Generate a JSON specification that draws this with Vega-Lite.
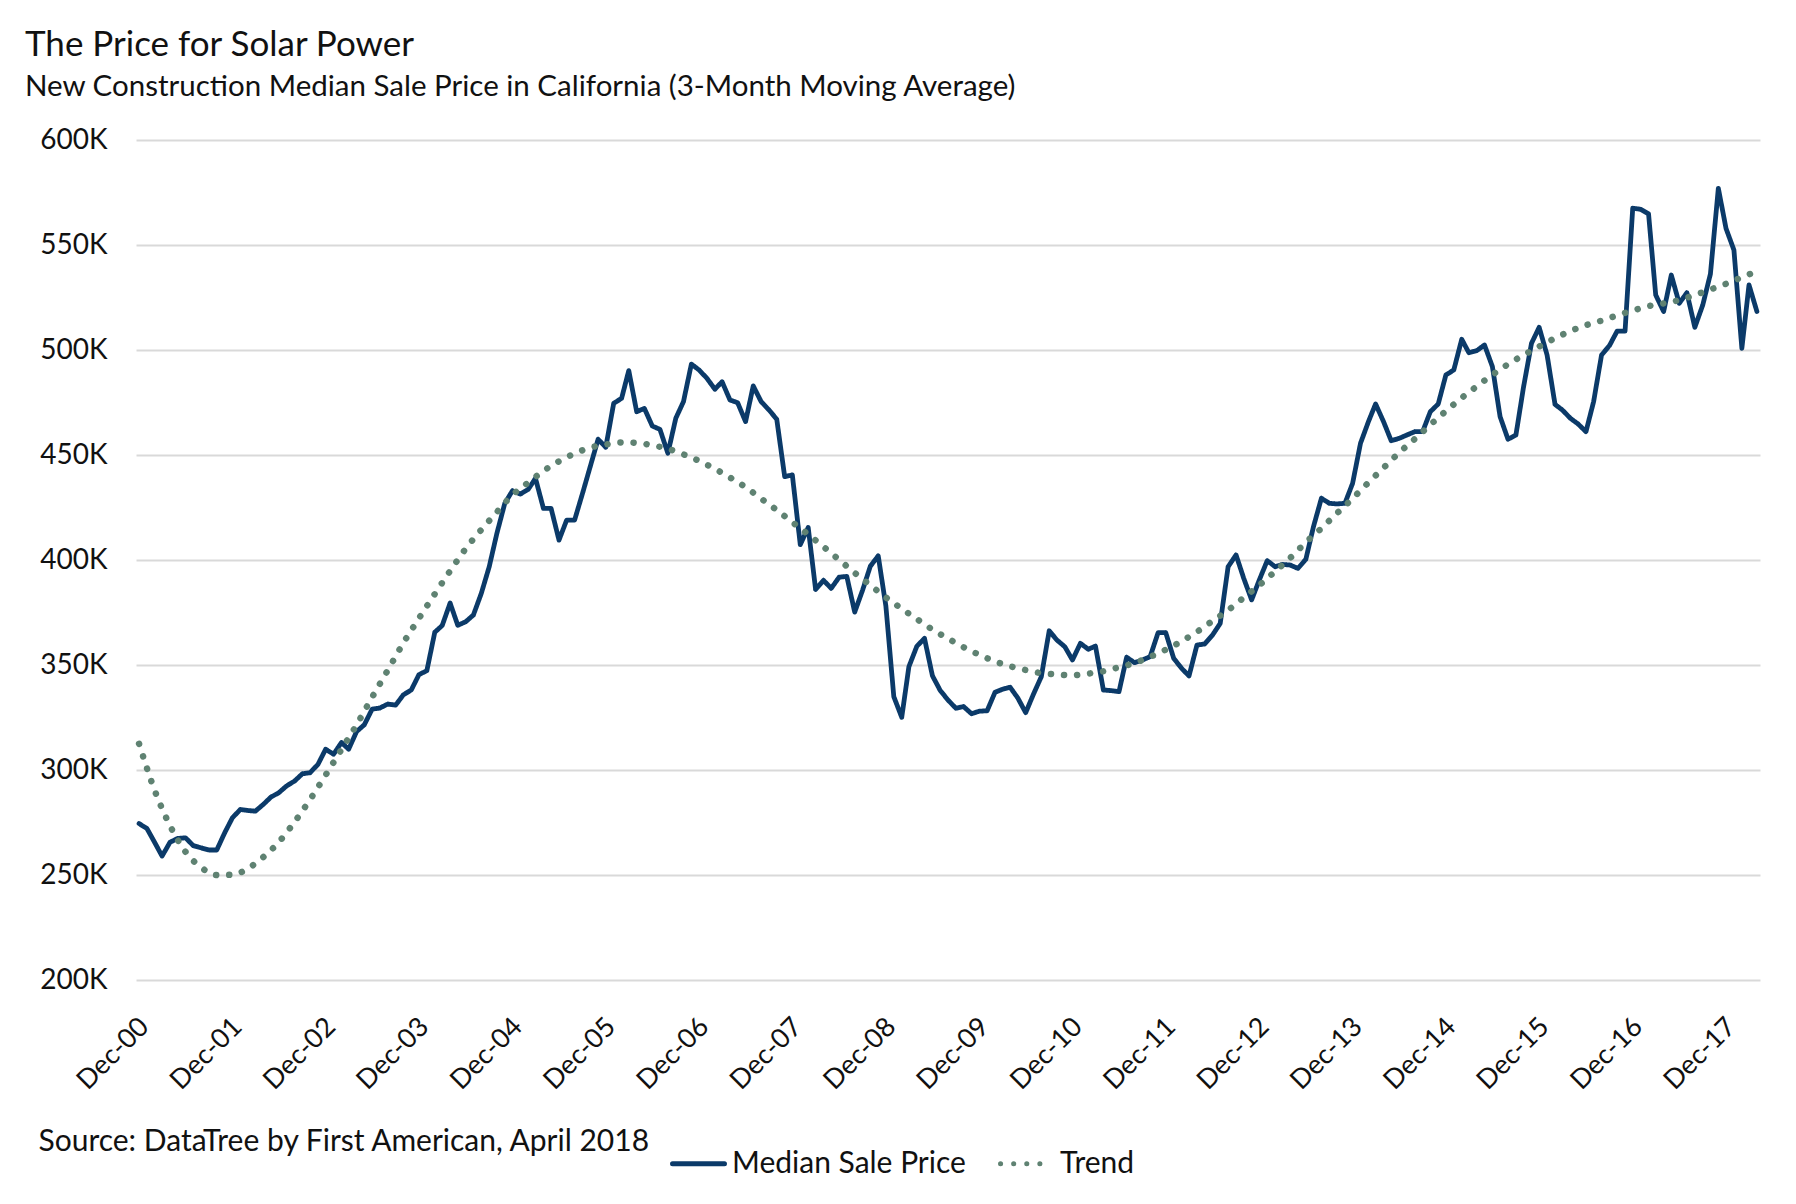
{
  "$schema": "https://vega.github.io/schema/vega-lite/v6.json",
  "autosize": {"type": "none"},
  "width": 1624,
  "height": 840,
  "padding": {"left": 136, "top": 140, "right": 36, "bottom": 224},
  "background": "white",
  "config": {"font": "Lato", "view": {"stroke": null}},
  "title": {
    "text": "The Price for Solar Power",
    "subtitle": "New Construction Median Sale Price in California (3-Month Moving Average)",
    "anchor": "start",
    "frame": "group",
    "dx": -111,
    "offset": 25,
    "fontSize": 35,
    "fontWeight": "normal",
    "color": "#111111",
    "subtitleFontSize": 29.5,
    "subtitleColor": "#111111",
    "subtitlePadding": 10
  },
  "datasets": {
    "price": [
      {"date": "2000/12/01", "value": 274.5},
      {"date": "2001/01/01", "value": 272.1},
      {"date": "2001/02/01", "value": 265.3},
      {"date": "2001/03/01", "value": 259.0},
      {"date": "2001/04/01", "value": 265.6},
      {"date": "2001/05/01", "value": 267.4},
      {"date": "2001/06/01", "value": 267.7},
      {"date": "2001/07/01", "value": 264.0},
      {"date": "2001/08/01", "value": 262.9},
      {"date": "2001/09/01", "value": 261.9},
      {"date": "2001/10/01", "value": 261.9},
      {"date": "2001/11/01", "value": 270.1},
      {"date": "2001/12/01", "value": 277.2},
      {"date": "2002/01/01", "value": 281.2},
      {"date": "2002/02/01", "value": 280.7},
      {"date": "2002/03/01", "value": 280.4},
      {"date": "2002/04/01", "value": 283.6},
      {"date": "2002/05/01", "value": 287.1},
      {"date": "2002/06/01", "value": 289.2},
      {"date": "2002/07/01", "value": 292.4},
      {"date": "2002/08/01", "value": 294.7},
      {"date": "2002/09/01", "value": 298.2},
      {"date": "2002/10/01", "value": 298.7},
      {"date": "2002/11/01", "value": 302.7},
      {"date": "2002/12/01", "value": 309.9},
      {"date": "2003/01/01", "value": 307.5},
      {"date": "2003/02/01", "value": 313.1},
      {"date": "2003/03/01", "value": 309.9},
      {"date": "2003/04/01", "value": 318.3},
      {"date": "2003/05/01", "value": 321.5},
      {"date": "2003/06/01", "value": 329.0},
      {"date": "2003/07/01", "value": 329.5},
      {"date": "2003/08/01", "value": 331.4},
      {"date": "2003/09/01", "value": 330.9},
      {"date": "2003/10/01", "value": 335.8},
      {"date": "2003/11/01", "value": 338.1},
      {"date": "2003/12/01", "value": 345.4},
      {"date": "2004/01/01", "value": 347.3},
      {"date": "2004/02/01", "value": 365.6},
      {"date": "2004/03/01", "value": 368.8},
      {"date": "2004/04/01", "value": 379.5},
      {"date": "2004/05/01", "value": 368.9},
      {"date": "2004/06/01", "value": 370.6},
      {"date": "2004/07/01", "value": 373.8},
      {"date": "2004/08/01", "value": 384.1},
      {"date": "2004/09/01", "value": 396.8},
      {"date": "2004/10/01", "value": 412.7},
      {"date": "2004/11/01", "value": 427.0},
      {"date": "2004/12/01", "value": 433.0},
      {"date": "2005/01/01", "value": 431.4},
      {"date": "2005/02/01", "value": 433.7},
      {"date": "2005/03/01", "value": 438.9},
      {"date": "2005/04/01", "value": 424.6},
      {"date": "2005/05/01", "value": 424.6},
      {"date": "2005/06/01", "value": 409.5},
      {"date": "2005/07/01", "value": 419.0},
      {"date": "2005/08/01", "value": 419.0},
      {"date": "2005/09/01", "value": 431.7},
      {"date": "2005/10/01", "value": 444.4},
      {"date": "2005/11/01", "value": 457.5},
      {"date": "2005/12/01", "value": 453.7},
      {"date": "2006/01/01", "value": 474.6},
      {"date": "2006/02/01", "value": 477.0},
      {"date": "2006/03/01", "value": 490.2},
      {"date": "2006/04/01", "value": 470.6},
      {"date": "2006/05/01", "value": 472.2},
      {"date": "2006/06/01", "value": 463.8},
      {"date": "2006/07/01", "value": 462.2},
      {"date": "2006/08/01", "value": 450.8},
      {"date": "2006/09/01", "value": 467.5},
      {"date": "2006/10/01", "value": 475.4},
      {"date": "2006/11/01", "value": 493.3},
      {"date": "2006/12/01", "value": 490.5},
      {"date": "2007/01/01", "value": 486.5},
      {"date": "2007/02/01", "value": 481.3},
      {"date": "2007/03/01", "value": 484.9},
      {"date": "2007/04/01", "value": 476.2},
      {"date": "2007/05/01", "value": 474.9},
      {"date": "2007/06/01", "value": 465.9},
      {"date": "2007/07/01", "value": 482.9},
      {"date": "2007/08/01", "value": 475.4},
      {"date": "2007/09/01", "value": 471.4},
      {"date": "2007/10/01", "value": 467.0},
      {"date": "2007/11/01", "value": 439.7},
      {"date": "2007/12/01", "value": 440.5},
      {"date": "2008/01/01", "value": 407.3},
      {"date": "2008/02/01", "value": 415.5},
      {"date": "2008/03/01", "value": 386.0},
      {"date": "2008/04/01", "value": 390.3},
      {"date": "2008/05/01", "value": 386.5},
      {"date": "2008/06/01", "value": 391.8},
      {"date": "2008/07/01", "value": 392.2},
      {"date": "2008/08/01", "value": 375.2},
      {"date": "2008/09/01", "value": 385.7},
      {"date": "2008/10/01", "value": 397.0},
      {"date": "2008/11/01", "value": 402.0},
      {"date": "2008/12/01", "value": 378.0},
      {"date": "2009/01/01", "value": 334.9},
      {"date": "2009/02/01", "value": 325.1},
      {"date": "2009/03/01", "value": 349.2},
      {"date": "2009/04/01", "value": 358.9},
      {"date": "2009/05/01", "value": 362.7},
      {"date": "2009/06/01", "value": 344.9},
      {"date": "2009/07/01", "value": 338.0},
      {"date": "2009/08/01", "value": 333.3},
      {"date": "2009/09/01", "value": 329.4},
      {"date": "2009/10/01", "value": 330.2},
      {"date": "2009/11/01", "value": 326.8},
      {"date": "2009/12/01", "value": 328.0},
      {"date": "2010/01/01", "value": 328.2},
      {"date": "2010/02/01", "value": 337.0},
      {"date": "2010/03/01", "value": 338.4},
      {"date": "2010/04/01", "value": 339.4},
      {"date": "2010/05/01", "value": 334.3},
      {"date": "2010/06/01", "value": 327.3},
      {"date": "2010/07/01", "value": 336.0},
      {"date": "2010/08/01", "value": 344.4},
      {"date": "2010/09/01", "value": 366.3},
      {"date": "2010/10/01", "value": 361.9},
      {"date": "2010/11/01", "value": 358.7},
      {"date": "2010/12/01", "value": 352.4},
      {"date": "2011/01/01", "value": 360.3},
      {"date": "2011/02/01", "value": 357.5},
      {"date": "2011/03/01", "value": 359.0},
      {"date": "2011/04/01", "value": 338.1},
      {"date": "2011/05/01", "value": 337.8},
      {"date": "2011/06/01", "value": 337.3},
      {"date": "2011/07/01", "value": 353.7},
      {"date": "2011/08/01", "value": 351.1},
      {"date": "2011/09/01", "value": 352.4},
      {"date": "2011/10/01", "value": 354.0},
      {"date": "2011/11/01", "value": 365.4},
      {"date": "2011/12/01", "value": 365.4},
      {"date": "2012/01/01", "value": 353.2},
      {"date": "2012/02/01", "value": 348.4},
      {"date": "2012/03/01", "value": 344.8},
      {"date": "2012/04/01", "value": 359.5},
      {"date": "2012/05/01", "value": 360.0},
      {"date": "2012/06/01", "value": 364.3},
      {"date": "2012/07/01", "value": 369.8},
      {"date": "2012/08/01", "value": 396.8},
      {"date": "2012/09/01", "value": 402.4},
      {"date": "2012/10/01", "value": 391.3},
      {"date": "2012/11/01", "value": 381.0},
      {"date": "2012/12/01", "value": 390.5},
      {"date": "2013/01/01", "value": 399.7},
      {"date": "2013/02/01", "value": 396.8},
      {"date": "2013/03/01", "value": 397.9},
      {"date": "2013/04/01", "value": 397.6},
      {"date": "2013/05/01", "value": 396.0},
      {"date": "2013/06/01", "value": 400.3},
      {"date": "2013/07/01", "value": 415.9},
      {"date": "2013/08/01", "value": 429.4},
      {"date": "2013/09/01", "value": 427.0},
      {"date": "2013/10/01", "value": 426.7},
      {"date": "2013/11/01", "value": 427.0},
      {"date": "2013/12/01", "value": 436.5},
      {"date": "2014/01/01", "value": 455.6},
      {"date": "2014/02/01", "value": 465.9},
      {"date": "2014/03/01", "value": 474.3},
      {"date": "2014/04/01", "value": 465.9},
      {"date": "2014/05/01", "value": 456.8},
      {"date": "2014/06/01", "value": 457.9},
      {"date": "2014/07/01", "value": 459.5},
      {"date": "2014/08/01", "value": 461.1},
      {"date": "2014/09/01", "value": 461.1},
      {"date": "2014/10/01", "value": 470.6},
      {"date": "2014/11/01", "value": 474.3},
      {"date": "2014/12/01", "value": 488.1},
      {"date": "2015/01/01", "value": 490.5},
      {"date": "2015/02/01", "value": 505.1},
      {"date": "2015/03/01", "value": 498.7},
      {"date": "2015/04/01", "value": 499.7},
      {"date": "2015/05/01", "value": 502.4},
      {"date": "2015/06/01", "value": 492.1},
      {"date": "2015/07/01", "value": 468.3},
      {"date": "2015/08/01", "value": 457.5},
      {"date": "2015/09/01", "value": 459.5},
      {"date": "2015/10/01", "value": 482.5},
      {"date": "2015/11/01", "value": 503.2},
      {"date": "2015/12/01", "value": 510.8},
      {"date": "2016/01/01", "value": 497.6},
      {"date": "2016/02/01", "value": 474.1},
      {"date": "2016/03/01", "value": 471.4},
      {"date": "2016/04/01", "value": 467.5},
      {"date": "2016/05/01", "value": 464.8},
      {"date": "2016/06/01", "value": 461.1},
      {"date": "2016/07/01", "value": 475.4},
      {"date": "2016/08/01", "value": 497.6},
      {"date": "2016/09/01", "value": 502.1},
      {"date": "2016/10/01", "value": 509.0},
      {"date": "2016/11/01", "value": 509.0},
      {"date": "2016/12/01", "value": 567.5},
      {"date": "2017/01/01", "value": 567.0},
      {"date": "2017/02/01", "value": 564.8},
      {"date": "2017/03/01", "value": 526.2},
      {"date": "2017/04/01", "value": 518.3},
      {"date": "2017/05/01", "value": 535.7},
      {"date": "2017/06/01", "value": 522.2},
      {"date": "2017/07/01", "value": 527.3},
      {"date": "2017/08/01", "value": 510.8},
      {"date": "2017/09/01", "value": 521.4},
      {"date": "2017/10/01", "value": 536.2},
      {"date": "2017/11/01", "value": 577.0},
      {"date": "2017/12/01", "value": 557.9},
      {"date": "2018/01/01", "value": 547.6},
      {"date": "2018/02/01", "value": 500.8},
      {"date": "2018/03/01", "value": 531.0},
      {"date": "2018/04/01", "value": 518.3}
    ],
    "trend": [
      {"date": "2000/12/01", "value": 312.5},
      {"date": "2001/02/01", "value": 290.0},
      {"date": "2001/04/01", "value": 273.5},
      {"date": "2001/06/01", "value": 261.0},
      {"date": "2001/08/01", "value": 253.6},
      {"date": "2001/10/01", "value": 250.0},
      {"date": "2001/12/01", "value": 250.1},
      {"date": "2002/02/01", "value": 253.2},
      {"date": "2002/04/01", "value": 258.5},
      {"date": "2002/06/01", "value": 265.7},
      {"date": "2002/08/01", "value": 275.2},
      {"date": "2002/10/01", "value": 285.9},
      {"date": "2002/12/01", "value": 297.6},
      {"date": "2003/02/01", "value": 309.8},
      {"date": "2003/04/01", "value": 321.5},
      {"date": "2003/06/01", "value": 334.7},
      {"date": "2003/08/01", "value": 347.5},
      {"date": "2003/10/01", "value": 360.5},
      {"date": "2003/12/01", "value": 372.2},
      {"date": "2004/02/01", "value": 383.8},
      {"date": "2004/04/01", "value": 394.8},
      {"date": "2004/06/01", "value": 405.4},
      {"date": "2004/08/01", "value": 414.4},
      {"date": "2004/10/01", "value": 422.8},
      {"date": "2004/12/01", "value": 431.0},
      {"date": "2005/02/01", "value": 436.9},
      {"date": "2005/04/01", "value": 442.4},
      {"date": "2005/06/01", "value": 447.0},
      {"date": "2005/08/01", "value": 450.7},
      {"date": "2005/10/01", "value": 453.5},
      {"date": "2005/12/01", "value": 455.0},
      {"date": "2006/02/01", "value": 456.0},
      {"date": "2006/04/01", "value": 455.8},
      {"date": "2006/06/01", "value": 454.6},
      {"date": "2006/08/01", "value": 453.0},
      {"date": "2006/10/01", "value": 450.3},
      {"date": "2006/12/01", "value": 447.2},
      {"date": "2007/02/01", "value": 443.4},
      {"date": "2007/04/01", "value": 439.3},
      {"date": "2007/06/01", "value": 434.7},
      {"date": "2007/08/01", "value": 429.2},
      {"date": "2007/10/01", "value": 423.8},
      {"date": "2007/12/01", "value": 418.0},
      {"date": "2008/02/01", "value": 412.2},
      {"date": "2008/04/01", "value": 406.3},
      {"date": "2008/06/01", "value": 400.1},
      {"date": "2008/08/01", "value": 393.9},
      {"date": "2008/10/01", "value": 388.0},
      {"date": "2008/12/01", "value": 382.2},
      {"date": "2009/02/01", "value": 376.8},
      {"date": "2009/04/01", "value": 371.9},
      {"date": "2009/06/01", "value": 366.9},
      {"date": "2009/08/01", "value": 362.6},
      {"date": "2009/10/01", "value": 358.5},
      {"date": "2009/12/01", "value": 354.9},
      {"date": "2010/02/01", "value": 351.7},
      {"date": "2010/04/01", "value": 349.4},
      {"date": "2010/06/01", "value": 347.6},
      {"date": "2010/08/01", "value": 346.1},
      {"date": "2010/10/01", "value": 345.5},
      {"date": "2010/12/01", "value": 345.1},
      {"date": "2011/02/01", "value": 345.9},
      {"date": "2011/04/01", "value": 347.0},
      {"date": "2011/06/01", "value": 348.9},
      {"date": "2011/08/01", "value": 351.0},
      {"date": "2011/10/01", "value": 353.9},
      {"date": "2011/12/01", "value": 357.3},
      {"date": "2012/02/01", "value": 361.3},
      {"date": "2012/04/01", "value": 365.8},
      {"date": "2012/06/01", "value": 371.0},
      {"date": "2012/08/01", "value": 376.1},
      {"date": "2012/10/01", "value": 382.1},
      {"date": "2012/12/01", "value": 388.0},
      {"date": "2013/02/01", "value": 394.6},
      {"date": "2013/04/01", "value": 401.0},
      {"date": "2013/06/01", "value": 408.4},
      {"date": "2013/08/01", "value": 415.1},
      {"date": "2013/10/01", "value": 422.3},
      {"date": "2013/12/01", "value": 429.3},
      {"date": "2014/02/01", "value": 436.9},
      {"date": "2014/04/01", "value": 443.9},
      {"date": "2014/06/01", "value": 451.1},
      {"date": "2014/08/01", "value": 457.6},
      {"date": "2014/10/01", "value": 464.4},
      {"date": "2014/12/01", "value": 470.9},
      {"date": "2015/02/01", "value": 477.2},
      {"date": "2015/04/01", "value": 482.7},
      {"date": "2015/06/01", "value": 488.2},
      {"date": "2015/08/01", "value": 493.2},
      {"date": "2015/10/01", "value": 497.6},
      {"date": "2015/12/01", "value": 501.7},
      {"date": "2016/02/01", "value": 505.6},
      {"date": "2016/04/01", "value": 509.0},
      {"date": "2016/06/01", "value": 511.8},
      {"date": "2016/08/01", "value": 514.0},
      {"date": "2016/10/01", "value": 516.5},
      {"date": "2016/12/01", "value": 518.8},
      {"date": "2017/02/01", "value": 520.9},
      {"date": "2017/04/01", "value": 522.2},
      {"date": "2017/06/01", "value": 523.8},
      {"date": "2017/08/01", "value": 526.2},
      {"date": "2017/10/01", "value": 528.8},
      {"date": "2017/12/01", "value": 531.5},
      {"date": "2018/02/01", "value": 534.6},
      {"date": "2018/04/01", "value": 537.5}
    ]
  },
  "encoding": {
    "x": {
      "field": "date",
      "type": "temporal",
      "scale": {"domain": [{"year": 2000, "month": 11, "date": 19}, {"year": 2018, "month": 4, "date": 13}]},
      "axis": {
        "values": [
          {"year": 2000, "month": 12, "date": 1}, {"year": 2001, "month": 12, "date": 1},
          {"year": 2002, "month": 12, "date": 1}, {"year": 2003, "month": 12, "date": 1},
          {"year": 2004, "month": 12, "date": 1}, {"year": 2005, "month": 12, "date": 1},
          {"year": 2006, "month": 12, "date": 1}, {"year": 2007, "month": 12, "date": 1},
          {"year": 2008, "month": 12, "date": 1}, {"year": 2009, "month": 12, "date": 1},
          {"year": 2010, "month": 12, "date": 1}, {"year": 2011, "month": 12, "date": 1},
          {"year": 2012, "month": 12, "date": 1}, {"year": 2013, "month": 12, "date": 1},
          {"year": 2014, "month": 12, "date": 1}, {"year": 2015, "month": 12, "date": 1},
          {"year": 2016, "month": 12, "date": 1}, {"year": 2017, "month": 12, "date": 1}
        ],
        "format": "%b-%y",
        "labelAngle": -45,
        "labelFontSize": 27,
        "labelColor": "#111111",
        "labelPadding": 33,
        "labelOffset": -4,
        "labelFlush": false,
        "labelOverlap": false,
        "ticks": false,
        "domain": false,
        "grid": false,
        "title": "Source: DataTree by First American, April 2018",
        "titleFontSize": 30,
        "titleFontWeight": "normal",
        "titleColor": "#111111",
        "titleAlign": "left",
        "titleAnchor": "start",
        "titleBaseline": "alphabetic",
        "titleX": -98,
        "titleY": 170
      }
    },
    "y": {
      "field": "value",
      "type": "quantitative",
      "scale": {"domain": [200, 600], "nice": false, "zero": false},
      "axis": {
        "values": [200, 250, 300, 350, 400, 450, 500, 550, 600],
        "labelExpr": "datum.value + 'K'",
        "labelFontSize": 28,
        "labelColor": "#111111",
        "labelPadding": 29,
        "ticks": false,
        "domain": false,
        "grid": true,
        "gridColor": "#d9d9d9",
        "gridWidth": 2,
        "title": null
      }
    },
    "color": {
      "field": "series",
      "type": "nominal",
      "scale": {"domain": ["Median Sale Price", "Trend"], "range": ["#0b3a69", "#5f8272"]},
      "legend": {
        "title": null,
        "orient": "none",
        "legendX": 534,
        "legendY": 995,
        "direction": "horizontal",
        "labelFontSize": 30,
        "labelLimit": 0,
        "labelColor": "#111111",
        "symbolSize": 2700,
        "symbolStrokeWidth": 5,
        "symbolType": "stroke",
        "columnPadding": 24,
        "labelOffset": 5,
        "encode": {"symbols": {"update": {"strokeCap": {"value": "round"}}}}
      }
    },
    "strokeDash": {
      "field": "series",
      "type": "nominal",
      "scale": {"domain": ["Median Sale Price", "Trend"], "range": [[1, 0], [0.1, 13]]},
      "legend": {
        "title": null,
        "orient": "none",
        "legendX": 534,
        "legendY": 995,
        "direction": "horizontal",
        "labelFontSize": 30,
        "labelLimit": 0,
        "labelColor": "#111111",
        "symbolSize": 2700,
        "symbolStrokeWidth": 5,
        "symbolType": "stroke",
        "columnPadding": 24,
        "labelOffset": 5,
        "encode": {"symbols": {"update": {"strokeCap": {"value": "round"}}}}
      }
    }
  },
  "layer": [
    {
      "data": {"name": "price"},
      "mark": {"type": "line", "strokeWidth": 4.8, "strokeJoin": "round", "strokeCap": "round"},
      "encoding": {"color": {"datum": "Median Sale Price"}, "strokeDash": {"datum": "Median Sale Price"}}
    },
    {
      "data": {"name": "trend"},
      "mark": {"type": "line", "strokeWidth": 6.5, "strokeCap": "round", "interpolate": "monotone"},
      "encoding": {"color": {"datum": "Trend"}, "strokeDash": {"datum": "Trend"}}
    }
  ]
}
